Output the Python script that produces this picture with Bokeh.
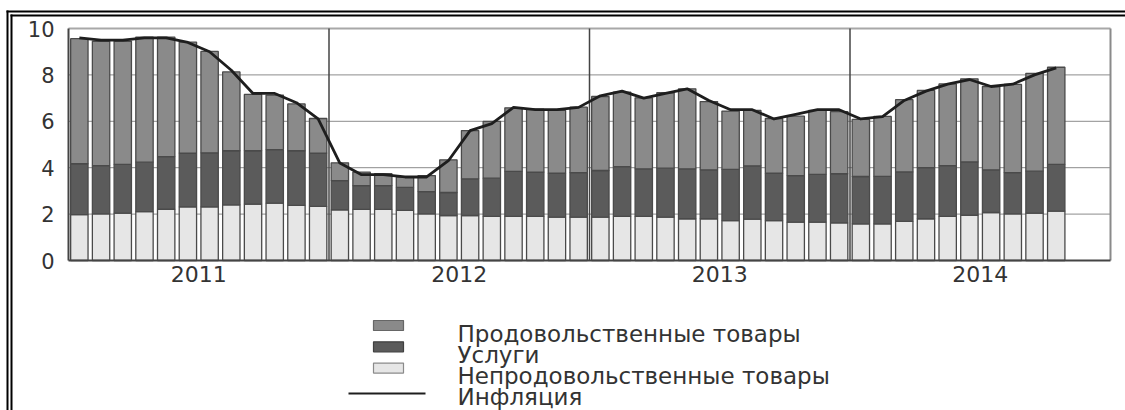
from bokeh.plotting import figure
from bokeh.models import Range1d, LinearAxis, FixedTicker, ColumnDataSource
from bokeh.core.properties import value
from bokeh.embed import file_html
from bokeh.resources import INLINE

# ---------------- data ----------------
years = ["2011", "2012", "2013", "2014"]
year_ticks = [6, 18, 30, 42]          # middle of each year (month index)
year_bounds = [12, 24, 36]            # year separators
n_slots = 48                          # Jan 2011 .. Dec 2014

nonfood = [1.98, 2.01, 2.04, 2.11, 2.21, 2.31, 2.31, 2.40, 2.43, 2.47, 2.38, 2.33,
           2.18, 2.20, 2.20, 2.16, 2.01, 1.94, 1.94, 1.90, 1.90, 1.90, 1.87, 1.87,
           1.87, 1.90, 1.90, 1.87, 1.80, 1.80, 1.72, 1.78, 1.72, 1.65, 1.65, 1.62,
           1.58, 1.58, 1.69, 1.80, 1.90, 1.95, 2.07, 2.01, 2.04, 2.13]
services = [2.19, 2.08, 2.10, 2.13, 2.27, 2.32, 2.33, 2.33, 2.30, 2.31, 2.35, 2.30,
            1.26, 1.03, 1.03, 0.99, 0.96, 0.99, 1.58, 1.65, 1.94, 1.91, 1.89, 1.92,
            2.01, 2.15, 2.05, 2.11, 2.15, 2.11, 2.21, 2.30, 2.04, 2.01, 2.06, 2.12,
            2.04, 2.05, 2.13, 2.20, 2.19, 2.30, 1.84, 1.78, 1.81, 2.01]
food = [5.39, 5.36, 5.31, 5.39, 5.15, 4.78, 4.37, 3.40, 2.43, 2.35, 2.02, 1.49,
        0.77, 0.58, 0.51, 0.44, 0.69, 1.41, 2.08, 2.45, 2.74, 2.71, 2.71, 2.82,
        3.19, 3.21, 3.06, 3.25, 3.45, 2.94, 2.51, 2.39, 2.36, 2.56, 2.76, 2.68,
        2.46, 2.58, 3.11, 3.33, 3.52, 3.58, 3.59, 3.80, 4.22, 4.19]
inflation = [9.6, 9.5, 9.5, 9.6, 9.6, 9.4, 9.0, 8.2, 7.2, 7.2, 6.8, 6.1,
             4.2, 3.7, 3.7, 3.6, 3.6, 4.3, 5.6, 5.9, 6.6, 6.5, 6.5, 6.6,
             7.1, 7.3, 7.0, 7.2, 7.4, 6.9, 6.5, 6.5, 6.1, 6.3, 6.5, 6.5,
             6.1, 6.2, 6.9, 7.3, 7.6, 7.8, 7.5, 7.6, 8.0, 8.3]
y_ticks = [0, 2, 4, 6, 8, 10]
y_grid = [2, 4, 6, 8]
y_max = 10
legend_labels = ["Продовольственные товары", "Услуги",
                 "Непродовольственные товары", "Инфляция"]

# ---------------- styling / layout ----------------
C_FOOD, C_SERV, C_NONFOOD = "#8a8a8a", "#5b5b5b", "#e6e6e6"
FONT = "DejaVu Sans"

OX, OY = 0, 0               # page position of the canvas
W, H = 1125, 410
PX_LEFT, PX_RIGHT = 68, 1110   # page x of first / last month slot edge
PY_BOTTOM, PY_TOP = 260, 28    # page y of value 0 and value 10
SX = (PX_RIGHT - PX_LEFT) / n_slots
SY = (PY_BOTTOM - PY_TOP) / float(y_max)


def dx(px):
    return (px - PX_LEFT) / SX


def dy(py):
    return (PY_BOTTOM - py) / SY


months = [i + 0.5 for i in range(len(nonfood))]

p = figure(width=W, height=H,
           x_range=Range1d(dx(OX), dx(OX + W)),
           y_range=Range1d(dy(OY + H), dy(OY)),
           x_axis_location=None, y_axis_location=None,
           toolbar_location=None, output_backend="svg",
           min_border=0, outline_line_color=None,
           background_fill_color="white", border_fill_color="white")
p.center = []

# grid lines, limited to the plotting area
p.segment(x0=[0] * len(y_grid), y0=y_grid, x1=[n_slots] * len(y_grid), y1=y_grid,
          line_color="#8c8c8c", line_width=1)
p.segment(x0=[0], y0=[y_max], x1=[n_slots], y1=[y_max],
          line_color="#a8a8a8", line_width=2)
p.segment(x0=year_bounds, y0=[0] * 3, x1=year_bounds, y1=[y_max] * 3,
          line_color="#444444", line_width=1.5)
p.segment(x0=[n_slots], y0=[0], x1=[n_slots], y1=[y_max],
          line_color="#8a8a8a", line_width=2)

# bars
src = ColumnDataSource(dict(x=months, nonfood=nonfood, services=services, food=food))
p.vbar_stack(["nonfood", "services", "food"], x="x", width=0.8, source=src,
             fill_color=[C_NONFOOD, C_SERV, C_FOOD], line_color="#4a4a4a", line_width=1.3)

# inflation line
p.line(months, inflation, line_color="#1e1e1e", line_width=2.8, line_join="round")

# axes
yaxis = LinearAxis(fixed_location=0, ticker=FixedTicker(ticks=y_ticks), bounds=(0, y_max),
                   axis_line_color="#444444", axis_line_width=2,
                   major_tick_out=0, major_tick_in=0, minor_tick_out=0, minor_tick_in=0,
                   major_label_standoff=14,
                   major_label_text_font=FONT, major_label_text_font_size="21px",
                   major_label_text_color="#333333")
p.add_layout(yaxis, "left")

xaxis = LinearAxis(fixed_location=0, ticker=FixedTicker(ticks=year_ticks), bounds=(0, n_slots),
                   major_label_overrides={t: y for t, y in zip(year_ticks, years)},
                   axis_line_color="#444444", axis_line_width=2,
                   major_tick_out=0, major_tick_in=0, minor_tick_out=0, minor_tick_in=0,
                   major_label_standoff=5,
                   major_label_text_font=FONT, major_label_text_font_size="22px",
                   major_label_text_color="#333333")
p.add_layout(xaxis, "below")

# legend (drawn by hand so the swatches can differ in width)
row_c = [325, 346.3, 367.6]
p.rect(x=[dx(388)] * 3, y=[dy(c) for c in row_c], width=30, height=10,
       width_units="screen", height_units="screen",
       fill_color=[C_FOOD, C_SERV, C_NONFOOD],
       line_color=["#666666", "#404040", "#8a8a8a"], line_width=1.2)
p.segment(x0=[dx(348)], y0=[dy(393)], x1=[dx(425)], y1=[dy(393)],
          line_color="#1e1e1e", line_width=2.2)
p.text(x=[dx(457)] * 4, y=[dy(b) for b in [333, 354.3, 375.6, 396.5]], text=legend_labels,
       text_font=value(FONT), text_font_size="23px", text_color="#333333",
       text_baseline="alphabetic", text_align="left")

# double frame (top and left)
p.segment(x0=[dx(6), dx(10)], y0=[dy(11), dy(15)], x1=[dx(1125), dx(1125)], y1=[dy(11), dy(15)],
          line_color="black", line_width=2)
p.segment(x0=[dx(7), dx(11)], y0=[dy(10), dy(14)], x1=[dx(7), dx(11)], y1=[dy(412), dy(412)],
          line_color="black", line_width=2)

open("out.html", "w").write(file_html(p, INLINE))
